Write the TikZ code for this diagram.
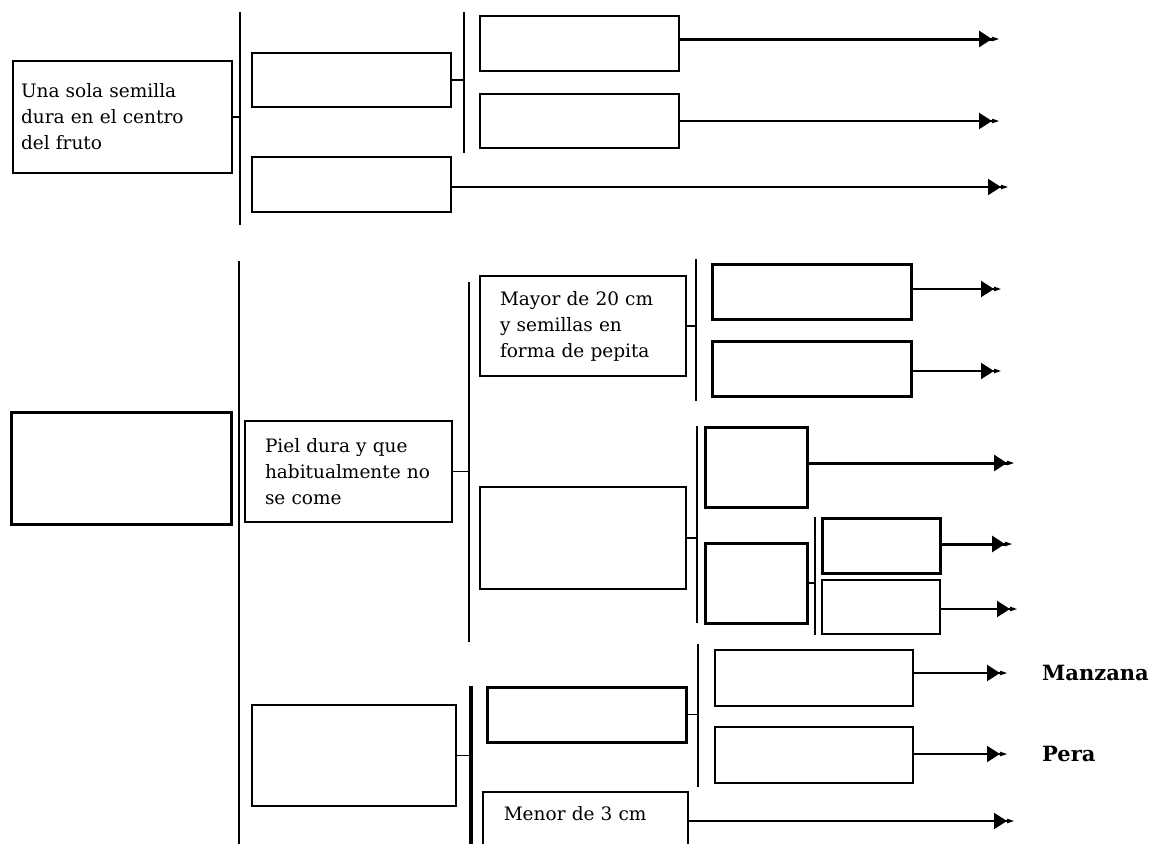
\documentclass[tikz,border=0pt]{standalone}
\usepackage{fontspec}
\setmainfont{DejaVu Serif}
\usetikzlibrary{arrows.meta}

\begin{document}
\begin{tikzpicture}[
  x=1pt, y=-1pt,
  box/.style={draw, line width=2pt, inner sep=0pt}, % empty boxes
  heavybox/.style={box, line width=3pt},
  txtbox/.style={box, align=left, inner xsep=20pt, font=\fontsize{18.5}{26}\selectfont},
  bar/.style={line width=2.4pt},
  link/.style={line width=1.8pt},
  thinlink/.style={line width=1.4pt},
  arr/.style={line width=2pt, -{Triangle[length=13pt,width=16pt,sep=0pt]Triangle[length=8pt,width=4pt]}},
  heavyarr/.style={arr, line width=3pt},
  result/.style={anchor=west, inner sep=0pt, font=\fontsize{21}{26}\selectfont\bfseries}
]
  \useasboundingbox (0,0) rectangle (1163,844);

  % upper key
  \node[txtbox, inner xsep=8pt, text width=203pt, minimum height=112pt] (A) at (122.5,117)
    {Una sola semilla\\dura en el centro\\del fruto};
  \node[box, minimum width=199pt, minimum height=54pt] (B) at (351.5,80) {};
  \node[box, minimum width=199pt, minimum height=55pt] (C) at (351.5,184.5) {};
  \node[box, minimum width=199pt, minimum height=55pt] (D1) at (579.5,43.5) {};
  \node[box, minimum width=199pt, minimum height=54pt] (D2) at (579.5,121) {};

  \coordinate (v1t) at (240,12);  \coordinate (v1b) at (240,225);
  \coordinate (v2t) at (464,12);  \coordinate (v2b) at (464,153);
  \coordinate (t1) at (1000,39);
  \coordinate (t2) at (1000,121);
  \coordinate (t3) at (1009,187);

  \draw[bar] (v1t) -- (v1b);
  \draw[bar] (v2t) -- (v2b);
  \draw[link] (A.east) -- (A.east -| v1t);
  \draw[bar] (B.east) -- (B.east -| v2t);
  \draw[heavyarr] (D1.east |- t1) -- (t1);
  \draw[arr] (D2.east |- t2) -- (t2);
  \draw[arr] (C.east |- t3) -- (t3);

  % lower key
  \node[heavybox, minimum width=220pt, minimum height=112pt] (E) at (121,468) {};
  \node[txtbox, text width=167pt, minimum height=101pt] (F) at (348.5,471.5)
    {Piel dura y que\\habitualmente no\\se come};
  \node[txtbox, text width=166pt, minimum height=100pt] (G) at (583,326)
    {Mayor de 20 cm\\y semillas en\\forma de pepita};
  \node[heavybox, minimum width=199pt, minimum height=55pt] (H1) at (811.5,291.5) {};
  \node[heavybox, minimum width=199pt, minimum height=55pt] (H2) at (811.5,368.5) {};
  \node[box, minimum width=206pt, minimum height=102pt] (I) at (583,538) {};
  \node[heavybox, minimum width=102pt, minimum height=80pt] (J1) at (756,467) {};
  \node[heavybox, minimum width=102pt, minimum height=80pt] (J2) at (756,583) {};
  \node[heavybox, minimum width=118pt, minimum height=55pt] (K1) at (881,545.5) {};
  \node[box, minimum width=118pt, minimum height=54pt] (K2) at (881,607) {};
  \node[box, minimum width=204pt, minimum height=101pt] (L) at (354,755.5) {};
  \node[heavybox, minimum width=199pt, minimum height=55pt] (M) at (586.5,714.5) {};
  \node[box, minimum width=198pt, minimum height=56pt] (P1) at (814,678) {};
  \node[box, minimum width=198pt, minimum height=56pt] (P2) at (814,755) {};
  \node[txtbox, anchor=north west, inner xsep=21pt, inner ysep=8pt, text width=163pt,
    text height=21pt, text depth=70pt, line width=1.6pt] (N) at (482,791) {Menor de 3 cm};
  \node[result] (manzana) at (1042,673) {Manzana};
  \node[result] (pera) at (1042,754) {Pera};

  \coordinate (v3t) at (239,261);  \coordinate (v3b) at (239,844);
  \coordinate (v4t) at (469,282);  \coordinate (v4b) at (469,642);
  \coordinate (v5t) at (696,259);  \coordinate (v5b) at (696,401);
  \coordinate (v6t) at (697,426);  \coordinate (v6b) at (697,623);
  \coordinate (v7t) at (815,517);  \coordinate (v7b) at (815,635);
  \coordinate (v8t) at (471,686);  \coordinate (v8b) at (471,844);
  \coordinate (v9t) at (698,644);  \coordinate (v9b) at (698,787);
  \coordinate (t4) at (1002,289);
  \coordinate (t5) at (1002,371);
  \coordinate (t6) at (1015,463);
  \coordinate (t7) at (1013,544);
  \coordinate (t8) at (1018,609);
  \coordinate (t9) at (1008,673);
  \coordinate (t10) at (1008,754);
  \coordinate (t11) at (1015,821);

  \foreach \v in {v3,v4,v5,v6,v7,v9}
    \draw[bar] (\v t) -- (\v b);
  \draw[bar, line width=3.4pt] (v8t) -- (v8b);

  \draw[link] (F.east) -- (F.east -| v4t);
  \draw[bar] (G.east) -- (G.east -| v5t);
  \draw[thinlink] (I.east) -- (I.east -| v6t);
  \draw[thinlink] (J2.east) -- (J2.east -| v7t);
  \draw[thinlink] (L.east) -- (L.east -| v8t);
  \draw[thinlink] (M.east) -- (M.east -| v9t);

  \draw[arr] (H1.east |- t4) -- (t4);
  \draw[arr] (H2.east |- t5) -- (t5);
  \draw[heavyarr] (J1.east |- t6) -- (t6);
  \draw[heavyarr] (K1.east |- t7) -- (t7);
  \draw[arr] (K2.east |- t8) -- (t8);
  \draw[arr] (P1.east |- t9) -- (t9);
  \draw[arr] (P2.east |- t10) -- (t10);
  \draw[arr] (N.east |- t11) -- (t11);
\end{tikzpicture}
\end{document}
